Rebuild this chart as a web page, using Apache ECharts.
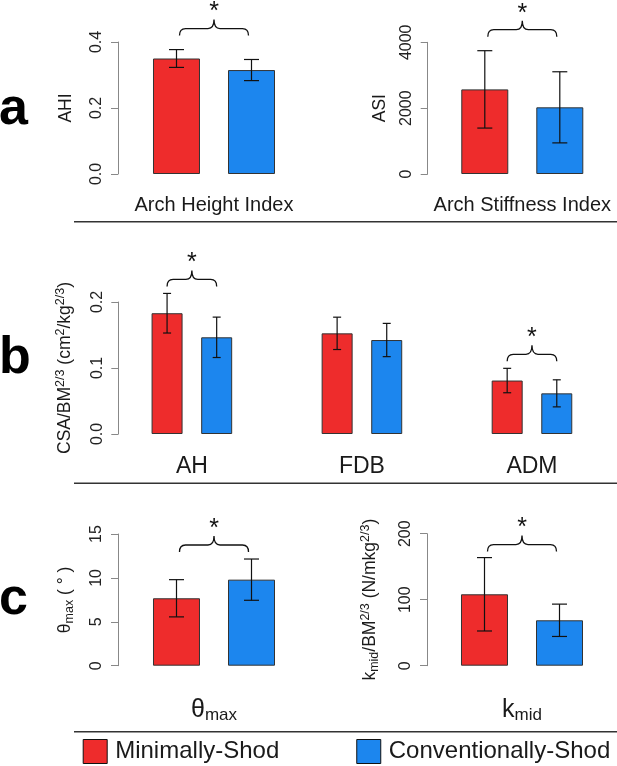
<!DOCTYPE html>
<html>
<head>
<meta charset="utf-8">
<script src="https://cdn.jsdelivr.net/npm/echarts@6/dist/echarts.min.js"></script>
<style>
html,body{margin:0;padding:0;background:#fff;}
#chart{width:617px;height:766px;}
</style>
</head>
<body>
<div id="chart"></div>
<script>
// ---------------- data ----------------
const groups = ['Minimally-Shod', 'Conventionally-Shod'];

// panel a
const archHeightLabel = ['Arch Height Index'];
const ahiMean = [0.35, 0.315];
const ahiSd = [0.027, 0.032];
const archStiffLabel = ['Arch Stiffness Index'];
const asiMean = [2570, 2025];
const asiSd = [1175, 1080];

// panel b
const muscles = ['AH', 'FDB', 'ADM'];
const csaMinMean = [0.183, 0.1525, 0.081];
const csaMinSd = [0.030, 0.0245, 0.0185];
const csaConMean = [0.1465, 0.1424, 0.0616];
const csaConSd = [0.0306, 0.0252, 0.0205];
const csaSig = [true, false, true];

// panel c
const thetaLabel = ['θ_max'];
const thetaMean = [7.68, 9.8];
const thetaSd = [2.12, 2.35];
const kLabel = ['k_mid'];
const kMean = [108.2, 68.8];
const kSd = [55.6, 24.5];

// axis ticks
const ahiTicks = [0, 0.2, 0.4];
const asiTicks = [0, 2000, 4000];
const csaTicks = [0, 0.1, 0.2];
const thetaTicks = [0, 5, 10, 15];
const kTicks = [0, 100, 200];

// ---------------- styles ----------------
const FONT = 'Liberation Sans, Arial, Helvetica, sans-serif';
const RED = '#EE2C2C';
const BLUE = '#1C86EE';
const colors = [RED, BLUE];
const INK = '#1a1a1a';

function fmtSub(s) {
  const p = s.split('_');
  return p.length > 1 ? '{n|' + p[0] + '}{sub|' + p[1] + '}' : s;
}

function mkGrid(left, top, width, height) {
  return { left: left, top: top, width: width, height: height, containLabel: false };
}

function mkX(gi, cats, fontSize, margin) {
  return {
    type: 'category', gridIndex: gi, data: cats,
    axisLine: { show: false }, axisTick: { show: false },
    axisLabel: {
      fontFamily: FONT, fontSize: fontSize, color: INK, margin: margin,
      formatter: fmtSub,
      rich: {
        n: { fontFamily: FONT, fontSize: fontSize, color: INK, lineHeight: 28 },
        sub: { fontFamily: FONT, fontSize: Math.round(fontSize * 0.68), color: INK, verticalAlign: 'bottom', lineHeight: 16 }
      }
    }
  };
}

function mkY(gi, ticks, name, nameGap, offset, rich) {
  const interval = ticks[1] - ticks[0];
  return {
    type: 'value', gridIndex: gi,
    min: ticks[0], max: ticks[ticks.length - 1], interval: interval,
    offset: offset || 0,
    splitLine: { show: false },
    axisLine: { show: true, lineStyle: { color: '#888', width: 1 } },
    axisTick: { show: true, length: 7, lineStyle: { color: '#888', width: 1 } },
    axisLabel: {
      rotate: 90, fontFamily: FONT, fontSize: 16, color: '#222', margin: 13,
      formatter: function (v) {
        return (ticks[1] - ticks[0]) < 1 ? v.toFixed(1) : String(v);
      }
    },
    name: name, nameLocation: 'middle', nameGap: nameGap,
    nameTextStyle: Object.assign({ fontFamily: FONT, fontSize: 17.5, color: INK }, rich ? { rich: rich } : {})
  };
}

function barSeries(gi, vals, gIdx, barWidth, barGap) {
  return {
    type: 'bar', name: groups[gIdx], xAxisIndex: gi, yAxisIndex: gi,
    data: vals, barWidth: barWidth, barGap: barGap,
    itemStyle: { color: colors[gIdx], borderColor: '#333', borderWidth: 1 },
    emphasis: { disabled: true }, z: 2
  };
}

function errSeries(gi, vals, sds, dx, capHalf) {
  return {
    type: 'custom', xAxisIndex: gi, yAxisIndex: gi, clip: false, z: 5,
    data: vals.map(function (v, i) { return [i, v, sds[i]]; }),
    encode: { x: 0, y: 1 },
    renderItem: function (params, api) {
      const i = api.value(0), m = api.value(1), s = api.value(2);
      const x = api.coord([i, m])[0] + dx;
      const yt = api.coord([i, m + s])[1];
      const yb = api.coord([i, m - s])[1];
      const st = { stroke: '#111', lineWidth: 1.2 };
      return {
        type: 'group', children: [
          { type: 'line', shape: { x1: x, y1: yt, x2: x, y2: yb }, style: st },
          { type: 'line', shape: { x1: x - capHalf, y1: yt, x2: x + capHalf, y2: yt }, style: st },
          { type: 'line', shape: { x1: x - capHalf, y1: yb, x2: x + capHalf, y2: yb }, style: st }
        ]
      };
    }
  };
}

function bracketSeries(gi, minVals, conVals, minSd, conSd, sig, halfSep, inset, gap) {
  const data = [];
  minVals.forEach(function (v, i) {
    if (sig[i]) data.push([i, Math.max(v + minSd[i], conVals[i] + conSd[i])]);
  });
  return {
    type: 'custom', xAxisIndex: gi, yAxisIndex: gi, clip: false, z: 6,
    data: data, encode: { x: 0, y: 1 },
    renderItem: function (params, api) {
      const i = api.value(0), top = api.value(1);
      const c = api.coord([i, top]);
      const xc = c[0];
      const x0 = xc - halfSep + inset, x1 = xc + halfSep - inset;
      const yb = c[1] - gap, yh = yb - 7, yt = yb - 16, r = 6;
      const d = 'M' + x0 + ',' + yb + ' Q' + x0 + ',' + yh + ' ' + (x0 + r) + ',' + yh +
        ' L' + (xc - r) + ',' + yh + ' Q' + xc + ',' + yh + ' ' + xc + ',' + yt +
        ' Q' + xc + ',' + yh + ' ' + (xc + r) + ',' + yh +
        ' L' + (x1 - r) + ',' + yh + ' Q' + x1 + ',' + yh + ' ' + x1 + ',' + yb;
      return {
        type: 'group', children: [
          { type: 'path', shape: { pathData: d }, style: { fill: 'none', stroke: '#111', lineWidth: 1.3 } },
          { type: 'text', style: { x: xc, y: yt - 7, text: '*', fontFamily: FONT, fontSize: 25, fill: '#111', textAlign: 'center', textVerticalAlign: 'middle' } }
        ]
      };
    }
  };
}

function panelTwo(gi, vals, sds, sigGap) {
  // one category, two bars (red, blue)
  const bw = 47, gapPx = 28, half = (bw + gapPx) / 2;
  const minV = [vals[0]], conV = [vals[1]];
  const minS = [sds[0]], conS = [sds[1]];
  return [
    barSeries(gi, minV, 0, bw, (gapPx / bw * 100).toFixed(1) + '%'),
    barSeries(gi, conV, 1, bw, (gapPx / bw * 100).toFixed(1) + '%'),
    errSeries(gi, minV, minS, -half, 7.5),
    errSeries(gi, conV, conS, half, 7.5),
    bracketSeries(gi, minV, conV, minS, conS, [true], half, 3, sigGap)
  ];
}

const supRich = {
  n: { fontFamily: FONT, fontSize: 17.5, color: INK, lineHeight: 22 },
  s: { fontFamily: FONT, fontSize: 12.5, color: INK, verticalAlign: 'top', lineHeight: 13 },
  sub: { fontFamily: FONT, fontSize: 12.5, color: INK, verticalAlign: 'bottom', lineHeight: 13 }
};

const bBw = 31, bGap = 18.6, bHalf = (bBw + bGap) / 2;

const option = {
  animation: false,
  backgroundColor: '#fff',
  grid: [
    mkGrid(118, 42, 192, 132),
    mkGrid(427.7, 42.3, 189.2, 131.7),
    mkGrid(106.85, 302, 517, 132),
    mkGrid(118, 534, 192, 131.7),
    mkGrid(427, 533.7, 190.6, 132)
  ],
  xAxis: [
    mkX(0, archHeightLabel, 20, 21),
    mkX(1, archStiffLabel, 20, 21),
    mkX(2, muscles, 23, 21),
    mkX(3, thetaLabel, 25, 30),
    mkX(4, kLabel, 25, 30)
  ],
  yAxis: [
    mkY(0, ahiTicks, 'AHI', 43),
    mkY(1, asiTicks, 'ASI', 39),
    mkY(2, csaTicks, '{n|CSA/BM}{s|2/3}{n| (cm}{s|2}{n|/kg}{s|2/3}{n|)}', 42, -11.45, supRich),
    mkY(3, thetaTicks, '{n|θ}{sub|max}{n| ( ° )}', 42, 0, supRich),
    mkY(4, kTicks, '{n|k}{sub|mid}{n|/BM}{s|2/3}{n| (N/mkg}{s|2/3}{n|)}', 46, 0, supRich)
  ],
  legend: {
    data: groups, left: 82.7, top: 739, padding: 0, itemWidth: 24, itemHeight: 24, itemGap: 77,
    icon: 'rect', selectedMode: false,
    itemStyle: { borderColor: '#111', borderWidth: 1 },
    textStyle: { fontFamily: FONT, fontSize: 24, color: INK, padding: [0, 0, 0, 3] }
  },
  series: [].concat(
    panelTwo(0, ahiMean, ahiSd, 14),
    panelTwo(1, asiMean, asiSd, 14),
    [
      barSeries(2, csaMinMean, 0, bBw, (bGap / bBw * 100).toFixed(1) + '%'),
      barSeries(2, csaConMean, 1, bBw, (bGap / bBw * 100).toFixed(1) + '%'),
      errSeries(2, csaMinMean, csaMinSd, -bHalf, 4),
      errSeries(2, csaConMean, csaConSd, bHalf, 4),
      bracketSeries(2, csaMinMean, csaConMean, csaMinSd, csaConSd, csaSig, bHalf, 0, 7)
    ],
    panelTwo(3, thetaMean, thetaSd, 7),
    panelTwo(4, kMean, kSd, 6)
  ),
  graphic: [
    { type: 'line', shape: { x1: 74, y1: 221.7, x2: 617, y2: 221.7 }, style: { stroke: '#333', lineWidth: 1.5 } },
    { type: 'line', shape: { x1: 74, y1: 483.3, x2: 617, y2: 483.3 }, style: { stroke: '#333', lineWidth: 1.5 } },
    { type: 'line', shape: { x1: 74, y1: 731.7, x2: 617, y2: 731.7 }, style: { stroke: '#333', lineWidth: 1.5 } },
    { type: 'text', left: -1, top: 84, style: { text: 'a', fontFamily: FONT, fontWeight: 'bold', fontSize: 52, fill: '#000' } },
    { type: 'text', left: -1, top: 333, style: { text: 'b', fontFamily: FONT, fontWeight: 'bold', fontSize: 52, fill: '#000' } },
    { type: 'text', left: -1, top: 574, style: { text: 'c', fontFamily: FONT, fontWeight: 'bold', fontSize: 52, fill: '#000' } }
  ]
};

const chart = echarts.init(document.getElementById('chart'), null, { renderer: 'canvas' });
chart.setOption(option);
</script>
</body>
</html>
